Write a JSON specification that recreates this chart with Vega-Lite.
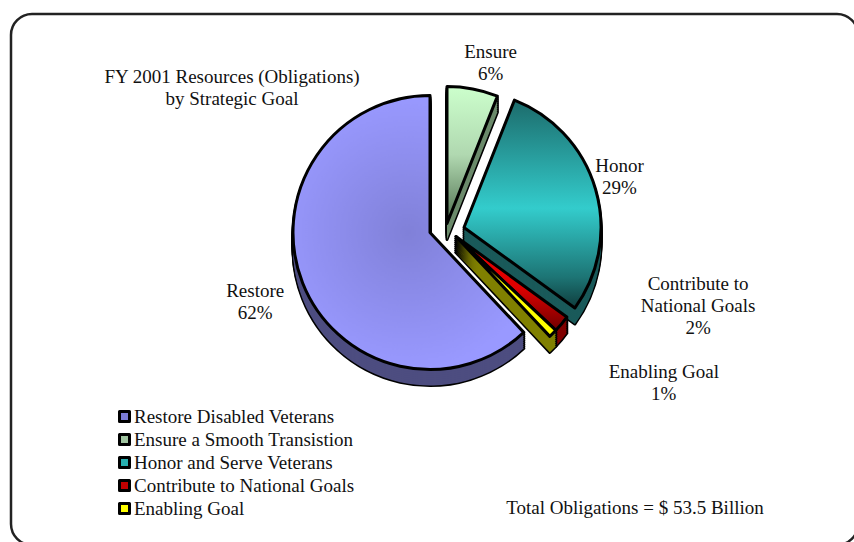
{
"$schema":"https://vega.github.io/schema/vega-lite/v6.json",
"width":847,"height":531,
"autosize":"none",
"padding":{"left":11,"top":14,"right":0,"bottom":0},
"background":"white",
"view":{"stroke":"#222222","strokeWidth":2.5,"cornerRadius":21},
"config":{"view":{"stroke":"#222222","strokeWidth":2.5,"cornerRadius":21},
 "font":"Liberation Serif",
 "arc":{"outerRadius":137},
 "text":{"font":"Liberation Serif","fontSize":19,"color":"#111111","lineHeight":22},
 "style":{"edge":{"fill":"#000","stroke":"#000","strokeWidth":3,"strokeJoin":"round"},"face":{"stroke":"#000","strokeWidth":3,"strokeJoin":"round"}}},
"title":{"text":["FY 2001 Resources (Obligations)","by Strategic Goal"],"anchor":"start","frame":"group","align":"center","baseline":"top","dx":221,"dy":95,"offset":0,"font":"Liberation Serif","fontSize":19,"fontWeight":"normal","color":"#111111","lineHeight":22},
"data":{"values":[
 {"goal":"Ensure a Smooth Transistion","short":"Ensure","caption":"Ensure","value":6},
 {"goal":"Honor and Serve Veterans","short":"Honor","caption":"Honor","value":29},
 {"goal":"Contribute to National Goals","short":"Contribute","caption":"Contribute to|National Goals","value":2},
 {"goal":"Enabling Goal","short":"Enabling","caption":"Enabling Goal","value":1},
 {"goal":"Restore Disabled Veterans","short":"Restore","caption":"Restore","value":62}
]},
"transform":[
 {"stack":"value","groupby":[],"as":["start","end"]},
 {"calculate":"(datum.start+datum.end)/2","as":"mid"},
 {"calculate":"split(datum.caption+'|'+datum.value+'%','|')","as":"label"}
],
"layer":[
 {"transform":[{"filter":"datum.short==='Ensure'"}],
  "encoding":{"theta":{"field":"start","type":"quantitative","scale":{"domain":[0,100],"range":[0,6.2832]}},"theta2":{"field":"end"}},
  "layer":[
   {"mark":{"type":"arc","style":"edge","xOffset":12.5,"yOffset":-40}},
   {"mark":{"type":"arc","style":"edge","xOffset":12.5,"yOffset":-42}},
   {"mark":{"type":"arc","style":"edge","xOffset":12.5,"yOffset":-44}},
   {"mark":{"type":"arc","style":"edge","xOffset":12.5,"yOffset":-46}},
   {"mark":{"type":"arc","style":"edge","xOffset":12.5,"yOffset":-48}},
   {"mark":{"type":"arc","style":"edge","xOffset":12.5,"yOffset":-50}},
   {"mark":{"type":"arc","style":"edge","xOffset":12.5,"yOffset":-52}},
   {"mark":{"type":"arc","style":"edge","xOffset":12.5,"yOffset":-54}},
   {"mark":{"type":"arc","xOffset":12.5,"yOffset":-40,"fill":"#6b8a6b"}},
   {"mark":{"type":"arc","xOffset":12.5,"yOffset":-42,"fill":"#6b8a6b"}},
   {"mark":{"type":"arc","xOffset":12.5,"yOffset":-44,"fill":"#6b8a6b"}},
   {"mark":{"type":"arc","xOffset":12.5,"yOffset":-46,"fill":"#6b8a6b"}},
   {"mark":{"type":"arc","xOffset":12.5,"yOffset":-48,"fill":"#6b8a6b"}},
   {"mark":{"type":"arc","xOffset":12.5,"yOffset":-50,"fill":"#6b8a6b"}},
   {"mark":{"type":"arc","xOffset":12.5,"yOffset":-52,"fill":"#6b8a6b"}},
   {"mark":{"type":"arc","xOffset":12.5,"yOffset":-54,"fill":"#6b8a6b"}},
   {"mark":{"type":"arc","xOffset":12.5,"yOffset":-56},
    "encoding":{"color":{"field":"goal","type":"nominal","sort":null,"title":null,"scale":{"domain":["Restore Disabled Veterans","Ensure a Smooth Transistion","Honor and Serve Veterans","Contribute to National Goals","Enabling Goal"],
     "range":["#7c7cd6","#9fc49f","#28b0b0","#c00000","#ffff00"]},
     "legend":{"orient":"none","legendX":104,"legendY":393,"symbolType":"square","symbolSize":100,"symbolStrokeColor":"#000","symbolStrokeWidth":2.5,"symbolOpacity":1,"labelFont":"Liberation Serif","labelFontSize":19,"labelColor":"#111111","labelLimit":300,"rowPadding":3,"labelOffset":0}}}},
   {"mark":{"type":"arc","style":"face","xOffset":12.5,"yOffset":-56,"fill":{"gradient":"linear","x1":0,"y1":0,"x2":0,"y2":1,"stops":[{"offset":0,"color":"#ccffcc"},{"offset":0.5,"color":"#b0d8b0"},{"offset":1,"color":"#4f6f4f"}]}}}
  ]},
 {"transform":[{"filter":"datum.short==='Honor'"}],
  "encoding":{"theta":{"field":"start","type":"quantitative","scale":{"domain":[0,100],"range":[0,6.2832]}},"theta2":{"field":"end"}},
  "layer":[
   {"mark":{"type":"arc","style":"edge","xOffset":29.5,"yOffset":-36}},
   {"mark":{"type":"arc","style":"edge","xOffset":29.5,"yOffset":-38}},
   {"mark":{"type":"arc","style":"edge","xOffset":29.5,"yOffset":-40}},
   {"mark":{"type":"arc","style":"edge","xOffset":29.5,"yOffset":-42}},
   {"mark":{"type":"arc","style":"edge","xOffset":29.5,"yOffset":-44}},
   {"mark":{"type":"arc","style":"edge","xOffset":29.5,"yOffset":-46}},
   {"mark":{"type":"arc","style":"edge","xOffset":29.5,"yOffset":-48}},
   {"mark":{"type":"arc","style":"edge","xOffset":29.5,"yOffset":-50}},
   {"mark":{"type":"arc","xOffset":29.5,"yOffset":-36,"fill":"#1a5a5a"}},
   {"mark":{"type":"arc","xOffset":29.5,"yOffset":-38,"fill":"#1a5a5a"}},
   {"mark":{"type":"arc","xOffset":29.5,"yOffset":-40,"fill":"#1a5a5a"}},
   {"mark":{"type":"arc","xOffset":29.5,"yOffset":-42,"fill":"#1a5a5a"}},
   {"mark":{"type":"arc","xOffset":29.5,"yOffset":-44,"fill":"#1a5a5a"}},
   {"mark":{"type":"arc","xOffset":29.5,"yOffset":-46,"fill":"#1a5a5a"}},
   {"mark":{"type":"arc","xOffset":29.5,"yOffset":-48,"fill":"#1a5a5a"}},
   {"mark":{"type":"arc","xOffset":29.5,"yOffset":-50,"fill":"#1a5a5a"}},
   {"mark":{"type":"arc","xOffset":29.5,"yOffset":-52},
    "encoding":{"color":{"field":"goal","type":"nominal"}}},
   {"mark":{"type":"arc","style":"face","xOffset":29.5,"yOffset":-52,"fill":{"gradient":"linear","x1":0,"y1":0,"x2":0,"y2":1,"stops":[{"offset":0,"color":"#1c6b6b"},{"offset":0.52,"color":"#33cccc"},{"offset":0.85,"color":"#1d7575"},{"offset":1,"color":"#0f3d3d"}]}}}
  ]},
 {"transform":[{"filter":"datum.short==='Contribute'"}],
  "encoding":{"theta":{"field":"start","type":"quantitative","scale":{"domain":[0,100],"range":[0,6.2832]}},"theta2":{"field":"end"}},
  "layer":[
   {"mark":{"type":"arc","style":"edge","xOffset":21.5,"yOffset":-27}},
   {"mark":{"type":"arc","style":"edge","xOffset":21.5,"yOffset":-29}},
   {"mark":{"type":"arc","style":"edge","xOffset":21.5,"yOffset":-31}},
   {"mark":{"type":"arc","style":"edge","xOffset":21.5,"yOffset":-33}},
   {"mark":{"type":"arc","style":"edge","xOffset":21.5,"yOffset":-35}},
   {"mark":{"type":"arc","style":"edge","xOffset":21.5,"yOffset":-37}},
   {"mark":{"type":"arc","style":"edge","xOffset":21.5,"yOffset":-39}},
   {"mark":{"type":"arc","style":"edge","xOffset":21.5,"yOffset":-41}},
   {"mark":{"type":"arc","xOffset":21.5,"yOffset":-27,"fill":"#800000"}},
   {"mark":{"type":"arc","xOffset":21.5,"yOffset":-29,"fill":"#800000"}},
   {"mark":{"type":"arc","xOffset":21.5,"yOffset":-31,"fill":"#800000"}},
   {"mark":{"type":"arc","xOffset":21.5,"yOffset":-33,"fill":"#800000"}},
   {"mark":{"type":"arc","xOffset":21.5,"yOffset":-35,"fill":"#800000"}},
   {"mark":{"type":"arc","xOffset":21.5,"yOffset":-37,"fill":"#800000"}},
   {"mark":{"type":"arc","xOffset":21.5,"yOffset":-39,"fill":"#800000"}},
   {"mark":{"type":"arc","xOffset":21.5,"yOffset":-41,"fill":"#800000"}},
   {"mark":{"type":"arc","xOffset":21.5,"yOffset":-43},
    "encoding":{"color":{"field":"goal","type":"nominal"}}},
   {"mark":{"type":"arc","style":"face","xOffset":21.5,"yOffset":-43,"fill":{"gradient":"linear","x1":0,"y1":0,"x2":0,"y2":1,"stops":[{"offset":0,"color":"#ee0000"},{"offset":0.55,"color":"#dd0000"},{"offset":1,"color":"#700000"}]}}}
  ]},
 {"transform":[{"filter":"datum.short==='Enabling'"}],
  "encoding":{"theta":{"field":"start","type":"quantitative","scale":{"domain":[0,100],"range":[0,6.2832]}},"theta2":{"field":"end"}},
  "layer":[
   {"mark":{"type":"arc","style":"edge","xOffset":21.5,"yOffset":-27}},
   {"mark":{"type":"arc","style":"edge","xOffset":21.5,"yOffset":-29}},
   {"mark":{"type":"arc","style":"edge","xOffset":21.5,"yOffset":-31}},
   {"mark":{"type":"arc","style":"edge","xOffset":21.5,"yOffset":-33}},
   {"mark":{"type":"arc","style":"edge","xOffset":21.5,"yOffset":-35}},
   {"mark":{"type":"arc","style":"edge","xOffset":21.5,"yOffset":-37}},
   {"mark":{"type":"arc","style":"edge","xOffset":21.5,"yOffset":-39}},
   {"mark":{"type":"arc","style":"edge","xOffset":21.5,"yOffset":-41}},
   {"mark":{"type":"arc","xOffset":21.5,"yOffset":-27,"fill":"#808000"}},
   {"mark":{"type":"arc","xOffset":21.5,"yOffset":-29,"fill":"#808000"}},
   {"mark":{"type":"arc","xOffset":21.5,"yOffset":-31,"fill":"#808000"}},
   {"mark":{"type":"arc","xOffset":21.5,"yOffset":-33,"fill":"#808000"}},
   {"mark":{"type":"arc","xOffset":21.5,"yOffset":-35,"fill":"#808000"}},
   {"mark":{"type":"arc","xOffset":21.5,"yOffset":-37,"fill":"#808000"}},
   {"mark":{"type":"arc","xOffset":21.5,"yOffset":-39,"fill":"#808000"}},
   {"mark":{"type":"arc","xOffset":21.5,"yOffset":-41,"fill":"#808000"}},
   {"mark":{"type":"arc","style":"face","xOffset":21.5,"yOffset":-43},
    "encoding":{"color":{"field":"goal","type":"nominal"}}}
  ]},
 {"transform":[{"filter":"datum.short==='Restore'"}],
  "encoding":{"theta":{"field":"start","type":"quantitative","scale":{"domain":[0,100],"range":[0,6.2832]}},"theta2":{"field":"end"}},
  "layer":[
   {"mark":{"type":"arc","style":"edge","xOffset":-4.5,"yOffset":-31}},
   {"mark":{"type":"arc","style":"edge","xOffset":-4.5,"yOffset":-33}},
   {"mark":{"type":"arc","style":"edge","xOffset":-4.5,"yOffset":-35}},
   {"mark":{"type":"arc","style":"edge","xOffset":-4.5,"yOffset":-37}},
   {"mark":{"type":"arc","style":"edge","xOffset":-4.5,"yOffset":-39}},
   {"mark":{"type":"arc","style":"edge","xOffset":-4.5,"yOffset":-41}},
   {"mark":{"type":"arc","style":"edge","xOffset":-4.5,"yOffset":-43}},
   {"mark":{"type":"arc","style":"edge","xOffset":-4.5,"yOffset":-45}},
   {"mark":{"type":"arc","xOffset":-4.5,"yOffset":-31,"fill":"#4d4d80"}},
   {"mark":{"type":"arc","xOffset":-4.5,"yOffset":-33,"fill":"#4d4d80"}},
   {"mark":{"type":"arc","xOffset":-4.5,"yOffset":-35,"fill":"#4d4d80"}},
   {"mark":{"type":"arc","xOffset":-4.5,"yOffset":-37,"fill":"#4d4d80"}},
   {"mark":{"type":"arc","xOffset":-4.5,"yOffset":-39,"fill":"#4d4d80"}},
   {"mark":{"type":"arc","xOffset":-4.5,"yOffset":-41,"fill":"#4d4d80"}},
   {"mark":{"type":"arc","xOffset":-4.5,"yOffset":-43,"fill":"#4d4d80"}},
   {"mark":{"type":"arc","xOffset":-4.5,"yOffset":-45,"fill":"#4d4d80"}},
   {"mark":{"type":"arc","xOffset":-4.5,"yOffset":-47},
    "encoding":{"color":{"field":"goal","type":"nominal"}}},
   {"mark":{"type":"arc","style":"face","xOffset":-4.5,"yOffset":-47,"fill":{"gradient":"radial","x1":0.5,"y1":0.5,"r1":0,"x2":0.5,"y2":0.5,"r2":0.5,"stops":[{"offset":0,"color":"#8080d8"},{"offset":1,"color":"#9999ff"}]}}}
  ]},
 {"transform":[{"filter":"datum.short==='Ensure'"}],
  "mark":{"type":"text","radius":174,"xOffset":12.5,"yOffset":-56,"dx":11,"dy":-1},
  "encoding":{"theta":{"field":"mid","type":"quantitative","scale":{"domain":[0,100],"range":[0,6.2832]}},"text":{"field":"label"}}},
 {"transform":[{"filter":"datum.short==='Honor'"}],
  "mark":{"type":"text","radius":165,"xOffset":29.5,"yOffset":-52,"dx":-3,"dy":-15},
  "encoding":{"theta":{"field":"mid","type":"quantitative","scale":{"domain":[0,100],"range":[0,6.2832]}},"text":{"field":"label"}}},
 {"transform":[{"filter":"datum.short==='Contribute'"}],
  "mark":{"type":"text","radius":200,"xOffset":21.5,"yOffset":-43,"dx":88,"dy":-80},
  "encoding":{"theta":{"field":"mid","type":"quantitative","scale":{"domain":[0,100],"range":[0,6.2832]}},"text":{"field":"label"}}},
 {"transform":[{"filter":"datum.short==='Enabling'"}],
  "mark":{"type":"text","radius":250,"xOffset":21.5,"yOffset":-43,"dx":31,"dy":-41},
  "encoding":{"theta":{"field":"mid","type":"quantitative","scale":{"domain":[0,100],"range":[0,6.2832]}},"text":{"field":"label"}}},
 {"transform":[{"filter":"datum.short==='Restore'"}],
  "mark":{"type":"text","radius":188,"xOffset":-4.5,"yOffset":-47,"dy":-11},
  "encoding":{"theta":{"field":"mid","type":"quantitative","scale":{"domain":[0,100],"range":[0,6.2832]}},"text":{"field":"label"}}},
 {"data":{"values":[{"total":53.5}]},
  "transform":[{"calculate":"'Total Obligations = $ '+datum.total+' Billion'","as":"line"}],
  "mark":{"type":"text","xOffset":200.5,"yOffset":228},
  "encoding":{"text":{"field":"line"}}}
],
"resolve":{"scale":{"theta":"shared","color":"shared"}}
}
